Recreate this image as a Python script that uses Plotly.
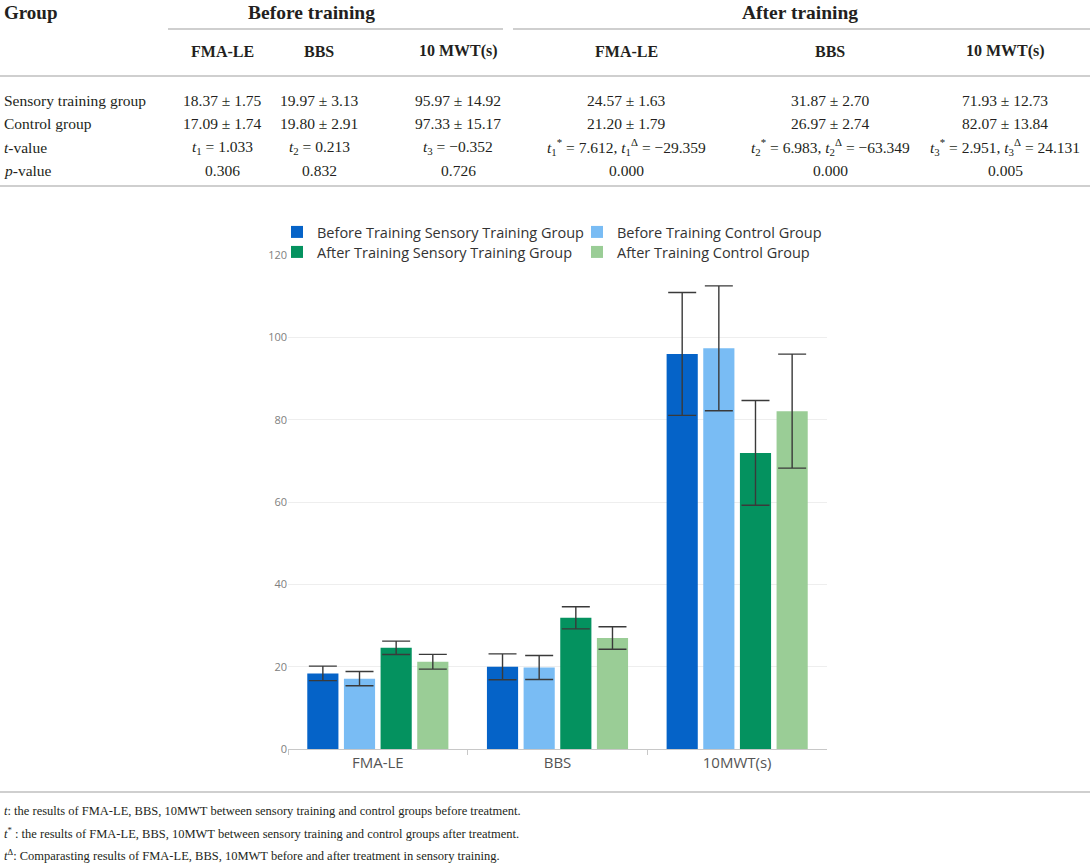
import plotly.graph_objects as go

W, H = 1090, 866

# chart data
categories = ["FMA-LE", "BBS", "10MWT(s)"]
series_names = ["Before Training Sensory Training Group", "Before Training Control Group",
                "After Training Sensory Training Group", "After Training Control Group"]
before_sensory_mean = [18.37, 19.97, 95.97]
before_sensory_sd = [1.75, 3.13, 14.92]
before_control_mean = [17.09, 19.80, 97.33]
before_control_sd = [1.74, 2.91, 15.17]
after_sensory_mean = [24.57, 31.87, 71.93]
after_sensory_sd = [1.63, 2.70, 12.73]
after_control_mean = [21.20, 26.97, 82.07]
after_control_sd = [1.79, 2.74, 13.84]

# table data
table_metrics = ["FMA-LE", "BBS", "10 MWT(s)"]
row_labels = ["Sensory training group", "Control group", "<i>t</i>-value", "<i>p</i>-value"]
t_before = [1.033, 0.213, -0.352]
t_after_star = [7.612, 6.983, 2.951]
t_after_delta = [-29.359, -63.349, 24.131]
p_before = ["0.306", "0.832", "0.726"]
p_after = ["0.000", "0.000", "0.005"]
footnotes = [
    "<i>t</i>: the results of FMA-LE, BBS, 10MWT between sensory training and control groups before treatment.",
    "<i>t</i><sup>*</sup> : the results of FMA-LE, BBS, 10MWT between sensory training and control groups after treatment.",
    "<i>t</i><sup>Δ</sup>: Comparasting results of FMA-LE, BBS, 10MWT before and after treatment in sensory training.",
]

colors = ["#0563c8", "#79bcf4", "#04925f", "#9acd96"]


def px_x(x):
    return x / W


def px_y(y):
    return 1 - y / H


def num(v):
    return f"{v:.3f}".replace("-", "−")


def cell(m, s):
    return f"{m:.2f} ± {s:.2f}"


fig = go.Figure()

means = [before_sensory_mean, before_control_mean, after_sensory_mean, after_control_mean]
sds = [before_sensory_sd, before_control_sd, after_sensory_sd, after_control_sd]
for i, name in enumerate(series_names):
    fig.add_trace(go.Bar(
        x=categories, y=means[i], name=name, marker_color=colors[i], marker_line_width=0,
        error_y=dict(type="data", array=sds[i], color="#3a3a3a", thickness=1.4, width=14),
        legend="legend" if i < 2 else "legend2",
    ))

# ---- table text
serif = "Liberation Serif"
ink = "#231f20"
annots = []


def txt(x, y, s, size=15.5, bold=False, anchor="center"):
    if bold:
        s = f"<b>{s}</b>"
    annots.append(dict(x=px_x(x), y=px_y(y), xref="paper", yref="paper", text=s, showarrow=False,
                       xanchor=anchor, yanchor="middle",
                       font=dict(family=serif, size=size, color=ink)))


txt(2, 13, "Group", size=19, bold=True, anchor="left")
txt(311, 13, "Before training", size=19.5, bold=True)
txt(800, 13, "After training", size=19.5, bold=True)

before_x = [222, 319, 458]
after_x = [626, 830, 1005]
row_y = [101, 124, 147, 170]

for j, m in enumerate(table_metrics):
    txt(before_x[j], 51, m, size=16, bold=True)
    txt(after_x[j], 51, m, size=16, bold=True)

for r, lab in enumerate(row_labels):
    txt(2, row_y[r], lab, anchor="left")

for j in range(3):
    txt(before_x[j], row_y[0], cell(before_sensory_mean[j], before_sensory_sd[j]))
    txt(before_x[j], row_y[1], cell(before_control_mean[j], before_control_sd[j]))
    txt(before_x[j], row_y[2], f"<i>t</i><sub>{j + 1}</sub> = {num(t_before[j])}")
    txt(before_x[j], row_y[3], p_before[j])
    txt(after_x[j], row_y[0], cell(after_sensory_mean[j], after_sensory_sd[j]))
    txt(after_x[j], row_y[1], cell(after_control_mean[j], after_control_sd[j]))
    txt(after_x[j], row_y[2],
        f"<i>t</i><sub>{j + 1}</sub><sup>*</sup> = {num(t_after_star[j])}, "
        f"<i>t</i><sub>{j + 1}</sub><sup>Δ</sup> = {num(t_after_delta[j])}")
    txt(after_x[j], row_y[3], p_after[j])

for k, note in enumerate(footnotes):
    txt(2, 811 + 22 * k, note, size=12.5, anchor="left")

# ---- rules
rule = dict(color="#cfcfcf", width=2)
shapes = []
for x0, x1, y in [(168, 503, 29), (513, 1090, 29), (0, 1090, 76), (0, 1090, 186), (0, 1090, 792)]:
    shapes.append(dict(type="line", xref="paper", yref="paper", x0=px_x(x0), x1=px_x(x1),
                       y0=px_y(y), y1=px_y(y), line=rule))

sans = "Open Sans"
legend_style = dict(orientation="h", xanchor="left", yanchor="top", x=px_x(277),
                    font=dict(family=sans, size=14.5, color="#333333"), itemwidth=30,
                    entrywidth=255, bgcolor="rgba(0,0,0,0)", borderwidth=0)

fig.update_layout(
    width=W, height=H,
    margin=dict(l=0, r=0, t=0, b=0, autoexpand=False),
    paper_bgcolor="white", plot_bgcolor="white",
    barmode="group", bargap=0.184, bargroupgap=0.15,
    annotations=annots, shapes=shapes,
    legend=dict(legend_style, y=px_y(216)),
    legend2=dict(legend_style, y=px_y(236)),
    xaxis=dict(domain=[px_x(288), px_x(827)], showline=True, linecolor="#c8c8c8", linewidth=1,
               ticks="outside", tickson="boundaries", ticklen=5, tickcolor="#c8c8c8",
               tickfont=dict(family=sans, size=15, color="#555555"), showgrid=False),
    yaxis=dict(domain=[px_y(749), px_y(255)], range=[0, 120], dtick=20, showgrid=True,
               gridcolor="#eeeeee", zeroline=False, showline=False,
               tickfont=dict(family=sans, size=11, color="#808080")),
    font=dict(family=sans),
)

fig.write_html(
    "out.html",
    config={"displayModeBar": False},
    post_script="var g = document.getElementById('{plot_id}');"
                "g.style.position = 'fixed'; g.style.top = '0'; g.style.left = '0';"
                "document.body.style.margin = '0';",
)
